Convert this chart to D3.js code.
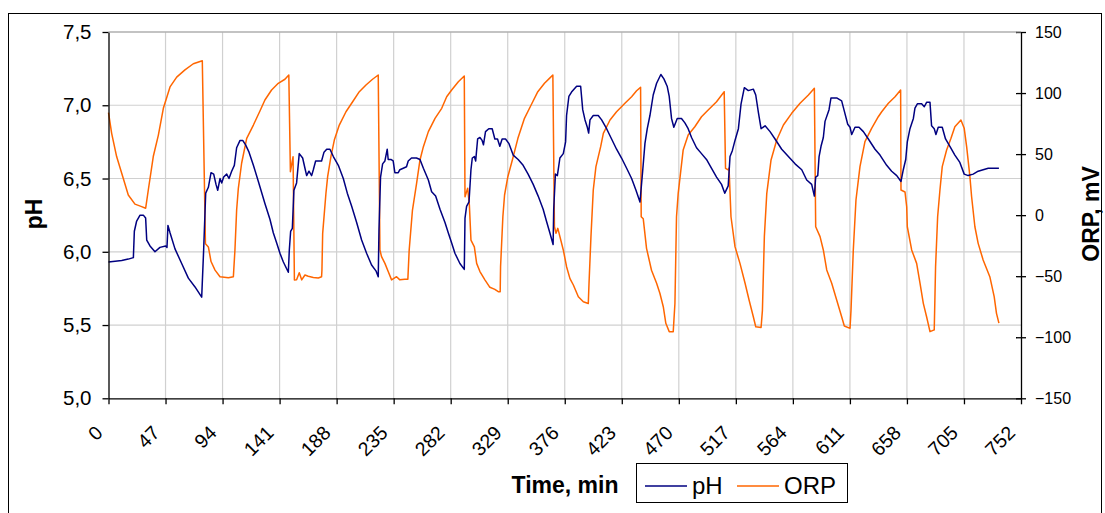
<!DOCTYPE html>
<html>
<head>
<meta charset="utf-8">
<script src="https://cdn.jsdelivr.net/npm/d3@7"></script>
<style>
  html, body { margin: 0; padding: 0; background: #fff; }
  svg { display: block; font-family: "Liberation Sans", Arial, sans-serif; }
</style>
</head>
<body>
<svg id="chart" width="1105" height="513"></svg>
<script>
// ---------------- data ----------------
const timeTicks = [0, 47, 94, 141, 188, 235, 282, 329, 376, 423, 470, 517, 564, 611, 658, 705, 752];
const phTicks = [5.0, 5.5, 6.0, 6.5, 7.0, 7.5];
const orpTicks = [-150, -100, -50, 0, 50, 100, 150];
const seriesNames = ["pH", "ORP"];

const phTime = [0,10.9,16.3,20.5,21.3,23.2,26.0,28.7,30.6,31.5,34.2,38.3,42.4,47.1,48.2,49.0,50.7,54.8,60.3,65.8,71.3,76.8,78.4,80.1,82.3,84.5,86.7,88.6,90.0,91.9,93.3,94.9,97.4,99.3,101.5,103.7,105.6,108.4,110.6,113.0,115.8,119.4,123.5,128.9,133.1,135.8,138.6,141.3,144.1,148.2,149.0,150.1,151.5,152.8,155.0,157.2,160.0,161.9,163.3,165.2,167.4,168.8,170.7,175.6,177.6,179.8,182.5,185.3,189.4,193.5,196.8,200.4,204.5,208.6,212.7,216.8,220.4,222.3,222.9,224.2,225.9,227.8,229.7,230.5,232.7,234.6,236.0,238.8,240.1,242.9,245.6,247.0,249.7,253.8,256.7,259.5,263.6,266.3,269.6,273.2,277.3,280.0,282.8,285.5,289.6,293.2,293.8,295.1,297.1,298.7,299.8,301.5,302.6,304.2,306.1,307.9,309.0,310.7,313.4,316.2,318.4,320.6,322.5,324.4,327.2,329.9,333.5,337.6,341.7,345.8,350.0,354.1,358.2,360.9,363.7,366.4,366.9,368.3,369.9,372.0,374.8,376.7,377.5,379.4,381.6,385.8,389.1,390.8,392.7,394.6,395.7,396.8,399.5,403.6,406.4,410.5,414.6,418.7,422.8,427.0,431.1,434.7,438.0,440.2,442.1,444.0,446.2,448.9,451.7,455.2,457.7,460.4,462.1,464.0,465.9,468.7,472.2,475.0,477.7,480.5,484.6,488.7,492.8,497.0,501.1,505.2,507.9,510.7,512.2,514.1,516.3,519.1,521.3,524.0,527.3,531.4,533.4,535.6,537.8,541.1,545.2,549.3,554.8,560.3,565.8,571.3,575.4,579.5,581.7,582.8,584.5,585.6,587.2,589.1,590.5,593.8,595.4,600.1,604.2,606.4,609.2,611.1,612.5,615.2,618.5,622.1,626.2,631.7,635.8,641.3,645.4,649.6,653.1,655.0,657.0,658.3,660.5,663.3,664.6,666.6,670.1,672.3,674.2,677.0,678.3,680.5,681.9,683.8,687.1,689.8,693.4,697.5,701.6,705.2,708.5,712.6,716.7,720.8,725.0,730.5,733.8];
const phValues = [5.93,5.94,5.95,5.96,6.14,6.21,6.25,6.25,6.23,6.08,6.04,6.00,6.03,6.04,6.03,6.18,6.13,6.02,5.92,5.82,5.76,5.69,6.01,6.40,6.44,6.54,6.53,6.46,6.42,6.50,6.47,6.51,6.53,6.50,6.55,6.59,6.71,6.76,6.76,6.73,6.68,6.59,6.48,6.33,6.22,6.13,6.06,5.99,5.93,5.86,6.01,6.14,6.16,6.42,6.47,6.67,6.64,6.57,6.52,6.55,6.52,6.56,6.62,6.62,6.68,6.70,6.70,6.65,6.59,6.50,6.40,6.31,6.20,6.08,5.99,5.91,5.87,5.83,6.15,6.51,6.60,6.62,6.70,6.63,6.63,6.62,6.54,6.54,6.56,6.57,6.58,6.62,6.64,6.64,6.63,6.57,6.49,6.41,6.38,6.29,6.20,6.13,6.06,5.99,5.92,5.88,6.23,6.31,6.34,6.56,6.64,6.65,6.62,6.77,6.78,6.76,6.73,6.82,6.84,6.84,6.77,6.77,6.72,6.77,6.77,6.74,6.66,6.63,6.59,6.53,6.46,6.38,6.29,6.21,6.13,6.05,6.29,6.53,6.52,6.64,6.67,6.75,6.93,7.06,7.09,7.13,7.13,6.97,6.90,6.85,6.81,6.90,6.93,6.93,6.90,6.84,6.77,6.70,6.64,6.57,6.50,6.42,6.34,6.55,6.74,6.84,6.93,7.07,7.15,7.21,7.18,7.13,7.06,6.91,6.85,6.91,6.91,6.88,6.84,6.78,6.71,6.67,6.63,6.57,6.51,6.46,6.40,6.45,6.65,6.69,6.76,6.84,7.01,7.12,7.10,7.11,7.07,6.95,6.84,6.86,6.82,6.77,6.70,6.65,6.60,6.56,6.49,6.46,6.38,6.51,6.52,6.65,6.72,6.78,6.89,6.97,7.05,7.05,7.03,6.96,6.87,6.85,6.80,6.85,6.85,6.82,6.77,6.70,6.66,6.59,6.55,6.52,6.48,6.56,6.63,6.75,6.84,6.91,6.98,7.01,7.01,6.99,7.02,7.02,6.86,6.84,6.80,6.85,6.85,6.77,6.72,6.66,6.61,6.53,6.52,6.53,6.55,6.56,6.57,6.57,6.57];

const orpTime = [0,2.6,6.7,12.2,16.3,21.8,27.3,30.6,32.8,36.9,41.1,45.2,50.7,56.2,63.0,69.9,77.3,79.9,82.3,84.5,87.8,91.9,98.8,102.9,104.2,105.6,107.0,109.7,113.9,119.4,124.9,128.9,134.4,139.9,145.4,148.6,149.9,152.1,153.2,155.0,157.2,159.2,161.9,164.6,168.8,172.9,175.6,175.9,176.5,179.2,180.6,183.3,186.1,190.2,195.7,201.2,206.7,212.2,217.6,222.3,223.7,225.0,227.8,230.5,233.3,237.4,240.1,244.2,246.7,247.8,250.5,253.9,256.7,259.5,263.6,269.1,274.6,278.7,282.8,288.3,293.2,293.8,296.0,297.4,298.7,301.5,303.4,306.1,310.2,314.3,318.4,321.2,322.8,323.1,325.0,326.4,329.1,333.2,337.4,342.8,348.3,353.8,359.3,363.4,366.2,367.5,368.8,370.3,371.6,374.8,377.5,380.3,383.1,387.2,391.3,395.4,396.0,397.6,399.5,401.7,405.6,407.8,413.3,418.7,425.6,431.1,435.2,438.5,439.0,440.7,443.4,447.5,451.7,454.4,457.2,459.3,462.1,465.4,466.8,468.1,469.5,473.6,477.7,483.2,488.7,494.2,501.1,507.4,508.5,510.7,511.4,513.0,516.3,520.4,524.6,527.9,531.4,533.4,537.8,538.9,540.5,542.5,546.0,550.7,556.2,563.0,569.9,576.8,581.7,582.8,586.4,589.1,591.9,596.0,600.1,604.2,606.4,611.1,611.9,613.8,616.0,619.3,623.4,628.9,634.4,637.2,642.7,648.2,652.8,653.1,656.4,657.8,658.3,661.9,666.0,668.8,671.5,674.2,677.0,680.5,681.6,683.3,685.2,687.1,690.7,694.3,697.5,702.5,705.2,707.2,709.9,711.3,714.0,716.7,720.8,726.3,729.9,731.8,733.8];
const orpValues = [84,67,48,30,16.5,9,7,5.6,20.6,48,65.6,87.5,105,113,119,124,126.5,-23.5,-26,-38,-45,-50.4,-51.3,-50.4,-28.5,4.2,22,42.5,62.9,73.8,85.5,94.3,102.5,108,111.3,114.8,35.6,47.9,-53.1,-53,-47.1,-53,-49,-50,-51,-51.5,-50.5,-45,-14.9,17.9,31.5,47.9,61.5,73.8,84.7,92.9,101.1,106.6,111.3,114.8,-28.5,-34,-39.5,-46.2,-53,-50.4,-53,-52.5,-52.5,-28.5,4.2,26,45.2,56.1,68.4,79.3,87.5,97,102.5,109.3,114,15.1,22,8.3,-20.4,-26,-39.5,-46.2,-53,-59.1,-60.8,-62.7,-62.7,-42.2,-1.3,16.5,31.5,46.6,62.9,79.3,90.2,101.1,108,112,114.8,-9.5,-14.9,-10.8,-16,-28.5,-42.2,-52,-57.2,-66.8,-70.9,-72.3,-55.8,-17.6,20.6,39.7,56.1,67,77.9,84.7,91.6,97,101.9,104.7,-1.3,-3,-27.2,-45.1,-55.8,-64,-75,-88.6,-95.4,-95.4,-72.3,-1.3,17.9,53.4,65.6,72.4,80.6,86.1,92.9,101.1,38.3,37,38.5,-1.3,-25.8,-39.5,-55.8,-69.5,-83.2,-91.4,-92,-78,-17.6,17.9,45.2,61.5,73.8,83.4,91.6,98.4,103.9,-9.5,-17.6,-28.5,-44.9,-55.8,-69.5,-83.2,-90.8,-92.7,-78,-28.5,12.4,39.7,60.2,71.1,80.6,84.7,91.6,97,102.5,20.6,19,6.9,-9.5,-28.5,-39.5,-55.8,-72.2,-83.2,-95.4,-94,-42.2,-1.3,20.6,39.7,53.4,62.9,72.4,77.9,71.1,56.1,31.5,15.1,-9.5,-23.1,-36.7,-50.4,-66.8,-80.4,-88.4];

// ---------------- layout ----------------
const svg = d3.select("#chart");
const L = 108.5, R = 1021, T = 32, B = 398.3;
const phColor = "#000080", orpColor = "#FF6600", gridColor = "#d0d0d0";

const x = d3.scaleLinear().domain([0, 752]).range([L, R]);
const yL = d3.scaleLinear().domain([5, 7.5]).range([B, T]);
const yR = d3.scaleLinear().domain([-150, 150]).range([B, T]);

// outer frame
svg.append("rect").attr("x", 8.5).attr("y", 13.5).attr("width", 1093).attr("height", 510)
  .attr("fill", "none").attr("stroke", "#000").attr("stroke-width", 1);

// grid
const grid = svg.append("g");
grid.selectAll("line.v").data(timeTicks.filter(d => d > 0 && d < 752)).join("line")
  .attr("x1", d => x(d)).attr("x2", d => x(d)).attr("y1", T).attr("y2", B)
  .attr("stroke", gridColor).attr("stroke-width", 1.2);
grid.selectAll("line.h").data(phTicks.filter(d => d > 5)).join("line")
  .attr("x1", L).attr("x2", R).attr("y1", d => yL(d)).attr("y2", d => yL(d))
  .attr("stroke", gridColor).attr("stroke-width", 1.2);

// series
const phData = phTime.map((t, i) => [t, phValues[i]]);
const orpData = orpTime.map((t, i) => [t, orpValues[i]]);
svg.append("path").datum(orpData)
  .attr("fill", "none").attr("stroke", orpColor).attr("stroke-width", 1.5)
  .attr("stroke-linejoin", "round")
  .attr("d", d3.line().x(d => x(d[0])).y(d => yR(d[1])));
svg.append("path").datum(phData)
  .attr("fill", "none").attr("stroke", phColor).attr("stroke-width", 1.5)
  .attr("stroke-linejoin", "round")
  .attr("d", d3.line().x(d => x(d[0])).y(d => yL(d[1])));

// axes
const fmtPh = d => d3.format(".1f")(d).replace(".", ",");
const gL = svg.append("g").attr("transform", `translate(${L},0)`)
  .call(d3.axisLeft(yL).tickValues(phTicks).tickSize(6).tickSizeOuter(0).tickPadding(11).tickFormat(fmtPh));
gL.selectAll("text").attr("font-size", 20.5).attr("fill", "#000").attr("font-family", "Liberation Sans, Arial, sans-serif");

const gB = svg.append("g").attr("transform", `translate(0,${B})`)
  .call(d3.axisBottom(x).tickValues(timeTicks).tickSize(6).tickSizeOuter(0).tickFormat(d3.format("d")));
gB.selectAll("text")
  .attr("font-size", 19.5).attr("fill", "#000").attr("font-family", "Liberation Sans, Arial, sans-serif")
  .attr("text-anchor", "end").attr("y", 0).attr("dy", "0.35em")
  .attr("transform", "translate(-10,31) rotate(-45)");

const gR = svg.append("g").attr("transform", `translate(${R},0)`)
  .call(d3.axisRight(yR).tickValues(orpTicks).tickSize(5).tickSizeOuter(0).tickPadding(9).tickFormat(d3.format("d")));
gR.selectAll(".tick line").attr("x1", -5);
gR.selectAll("text").attr("font-size", 16).attr("fill", "#000").attr("font-family", "Liberation Sans, Arial, sans-serif");

[gL, gB, gR].forEach(g => {
  g.select(".domain").attr("stroke", "#000").attr("stroke-width", 1.3);
  g.selectAll(".tick line").attr("stroke", "#000").attr("stroke-width", 1.3);
});

// top border of plot area
svg.append("line").attr("x1", L).attr("x2", R).attr("y1", T).attr("y2", T)
  .attr("stroke", "#a0a0a0").attr("stroke-width", 1.2);

// axis titles
svg.append("text").attr("transform", "translate(42,214) rotate(-90)")
  .attr("text-anchor", "middle").attr("font-size", 23).attr("font-weight", "bold").text("pH");
svg.append("text").attr("transform", "translate(1099,214) rotate(-90)")
  .attr("text-anchor", "middle").attr("font-size", 23).attr("font-weight", "bold").text("ORP, mV");
svg.append("text").attr("x", 565).attr("y", 493)
  .attr("text-anchor", "middle").attr("font-size", 23).attr("font-weight", "bold").text("Time, min");

// legend
const lg = svg.append("g");
lg.append("rect").attr("x", 636.5).attr("y", 463.5).attr("width", 211).attr("height", 39)
  .attr("fill", "#fff").attr("stroke", "#000").attr("stroke-width", 1);
const legendItems = [
  { name: seriesNames[0], color: phColor, x0: 645 },
  { name: seriesNames[1], color: orpColor, x0: 737 }
];
legendItems.forEach(it => {
  lg.append("line").attr("x1", it.x0).attr("x2", it.x0 + 42).attr("y1", 486).attr("y2", 486)
    .attr("stroke", it.color).attr("stroke-width", 1.5);
  lg.append("text").attr("x", it.x0 + 47).attr("y", 494).attr("font-size", 24).attr("fill", "#000").text(it.name);
});
</script>
</body>
</html>
